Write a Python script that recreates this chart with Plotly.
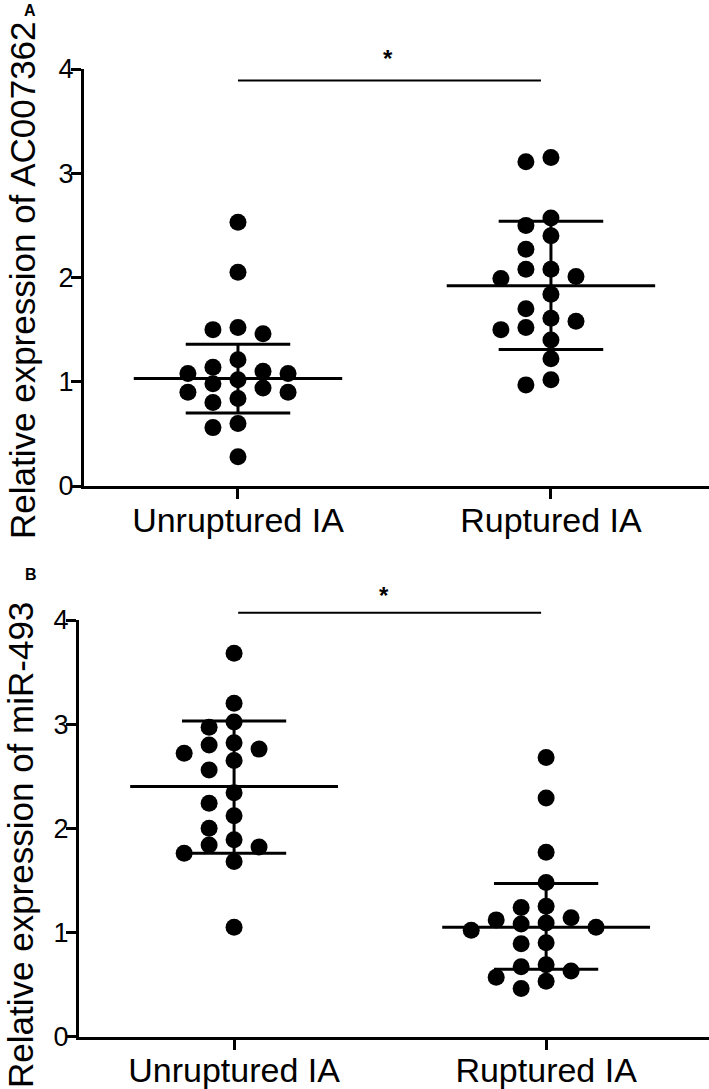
import plotly.graph_objects as go

# ---------------- data ----------------
categories = ["Unruptured IA", "Ruptured IA"]
y_ticks = [0, 1, 2, 3, 4]

# Panel A: relative expression of AC007362
a_unruptured = [2.53, 2.05, 1.52, 1.46, 1.50, 1.21, 1.14, 1.08, 1.08, 1.10,
                1.02, 0.98, 0.94, 0.90, 0.90, 0.84, 0.80, 0.60, 0.56, 0.28]
a_ruptured = [3.11, 3.15, 2.57, 2.50, 2.40, 2.27, 2.08, 2.08, 2.01, 1.99,
              1.84, 1.70, 1.61, 1.58, 1.50, 1.52, 1.40, 1.22, 0.97, 1.02]
a_mean = [1.03, 1.92]
a_sd_low = [0.70, 1.31]
a_sd_high = [1.36, 2.54]

# Panel B: relative expression of miR-493
b_unruptured = [3.68, 3.20, 3.02, 2.97, 2.82, 2.80, 2.76, 2.72, 2.65, 2.56,
                2.34, 2.24, 2.12, 2.00, 1.89, 1.84, 1.82, 1.76, 1.68, 1.05]
b_ruptured = [2.68, 2.29, 1.77, 1.48, 1.25, 1.24, 1.14, 1.09, 1.12, 1.05,
              1.08, 1.02, 0.90, 0.89, 0.67, 0.69, 0.63, 0.57, 0.53, 0.46]
b_mean = [2.40, 1.05]
b_sd_low = [1.76, 0.645]
b_sd_high = [3.03, 1.47]

significance = "*"

# ---------------- layout helpers ----------------
W, H = 709, 1089
FONT = "Liberation Sans, Arial, sans-serif"
STEP = 0.08      # horizontal slot spacing (x units)
THR = 0.15       # min vertical gap within a slot (y units)


def swarm_offsets(values):
    order = sorted(range(len(values)), key=lambda i: -values[i])
    placed = {}
    offs = [0.0] * len(values)
    for i in order:
        v = values[i]
        slot = 0
        for s in [0, -1, 1, -2, 2, -3, 3, -4, 4, -5, 5]:
            if all(abs(v - u) >= THR for u in placed.get(s, [])):
                slot = s
                break
        placed.setdefault(slot, []).append(v)
        offs[i] = slot * STEP
    return offs


panels = [
    dict(groups=[a_unruptured, a_ruptured], mean=a_mean, lo=a_sd_low, hi=a_sd_high,
         xdom=(84, W), ydom=(486, 69), xrange=[-0.492, 1.505],
         title="Relative expression of AC007362", title_xy=(22, 280),
         label="A", label_xy=(30, 11), sig_y=3.89, sig_x=(0.0, 0.968), star_y=58),
    dict(groups=[b_unruptured, b_ruptured], mean=b_mean, lo=b_sd_low, hi=b_sd_high,
         xdom=(79, W), ydom=(1036.5, 620), xrange=[-0.497, 1.522],
         title="Relative expression of miR-493", title_xy=(20, 845),
         label="B", label_xy=(31, 574), sig_y=4.07, sig_x=(0.013, 0.984), star_y=595),
]

fig = go.Figure()
shapes = []
annotations = []

for p_i, p in enumerate(panels):
    sfx = "" if p_i == 0 else str(p_i + 1)
    xa, ya = "x" + sfx, "y" + sfx
    for c, vals in enumerate(p["groups"]):
        offs = swarm_offsets(vals)
        fig.add_trace(go.Scatter(
            x=[c + o for o in offs], y=vals, mode="markers",
            marker=dict(size=17, color="black", line=dict(width=0)),
            xaxis=xa, yaxis=ya, showlegend=False, hoverinfo="y"))
        m, lo, hi = p["mean"][c], p["lo"][c], p["hi"][c]
        line = dict(color="black", width=3)
        fig.add_trace(go.Scatter(x=[c - 0.333, c + 0.333], y=[m, m], mode="lines",
                                 line=line, xaxis=xa, yaxis=ya, showlegend=False))
        for yy in (lo, hi):
            fig.add_trace(go.Scatter(x=[c - 0.167, c + 0.167], y=[yy, yy], mode="lines",
                                     line=line, xaxis=xa, yaxis=ya, showlegend=False))
        fig.add_trace(go.Scatter(x=[c, c], y=[lo, hi], mode="lines",
                                 line=line, xaxis=xa, yaxis=ya, showlegend=False))

    y0px, y4px = p["ydom"]
    dom_y = [1 - y0px / H, 1 - y4px / H]
    dom_x = [p["xdom"][0] / W, p["xdom"][1] / W]
    axis_common = dict(showline=True, linecolor="black", linewidth=3,
                       ticks="outside", ticklen=10, tickwidth=3, tickcolor="black",
                       showgrid=False, zeroline=False, automargin=False)
    fig.update_layout(**{
        "xaxis" + sfx: dict(domain=dom_x, range=p["xrange"], tickvals=[0, 1],
                            ticktext=categories, anchor=ya, ticklabelstandoff=-8,
                            tickfont=dict(family=FONT, size=34, color="black"),
                            **axis_common),
        "yaxis" + sfx: dict(domain=dom_y, range=[0, 4], tickvals=y_ticks,
                            anchor=xa, ticklabelstandoff=-8,
                            tickfont=dict(family=FONT, size=27, color="black"),
                            **axis_common),
    })

    def to_paper(v):
        return dom_y[0] + (dom_y[1] - dom_y[0]) * v / 4.0

    sy = to_paper(p["sig_y"])
    shapes.append(dict(type="line", xref=xa, yref="paper",
                       x0=p["sig_x"][0], x1=p["sig_x"][1], y0=sy, y1=sy,
                       line=dict(color="black", width=2)))
    annotations.append(dict(text="<b>" + significance + "</b>", xref=xa, yref="paper",
                            x=0.48, y=1 - p["star_y"] / H, showarrow=False,
                            xanchor="center", yanchor="middle",
                            font=dict(family=FONT, size=24, color="black")))
    annotations.append(dict(text=p["title"], xref="paper", yref="paper",
                            x=p["title_xy"][0] / W, y=1 - p["title_xy"][1] / H,
                            textangle=-90, showarrow=False,
                            xanchor="center", yanchor="middle",
                            font=dict(family=FONT, size=35, color="black")))
    annotations.append(dict(text="<b>" + p["label"] + "</b>", xref="paper", yref="paper",
                            x=p["label_xy"][0] / W, y=1 - p["label_xy"][1] / H,
                            showarrow=False, xanchor="center", yanchor="middle",
                            font=dict(family=FONT, size=16, color="black")))

fig.update_layout(width=W, height=H, margin=dict(l=0, r=0, t=0, b=0),
                  paper_bgcolor="white", plot_bgcolor="white",
                  shapes=shapes, annotations=annotations, showlegend=False)

fig.write_html("out.html", config={"displayModeBar": False},
               post_script="document.body.style.margin='0';document.body.style.padding='0';")
